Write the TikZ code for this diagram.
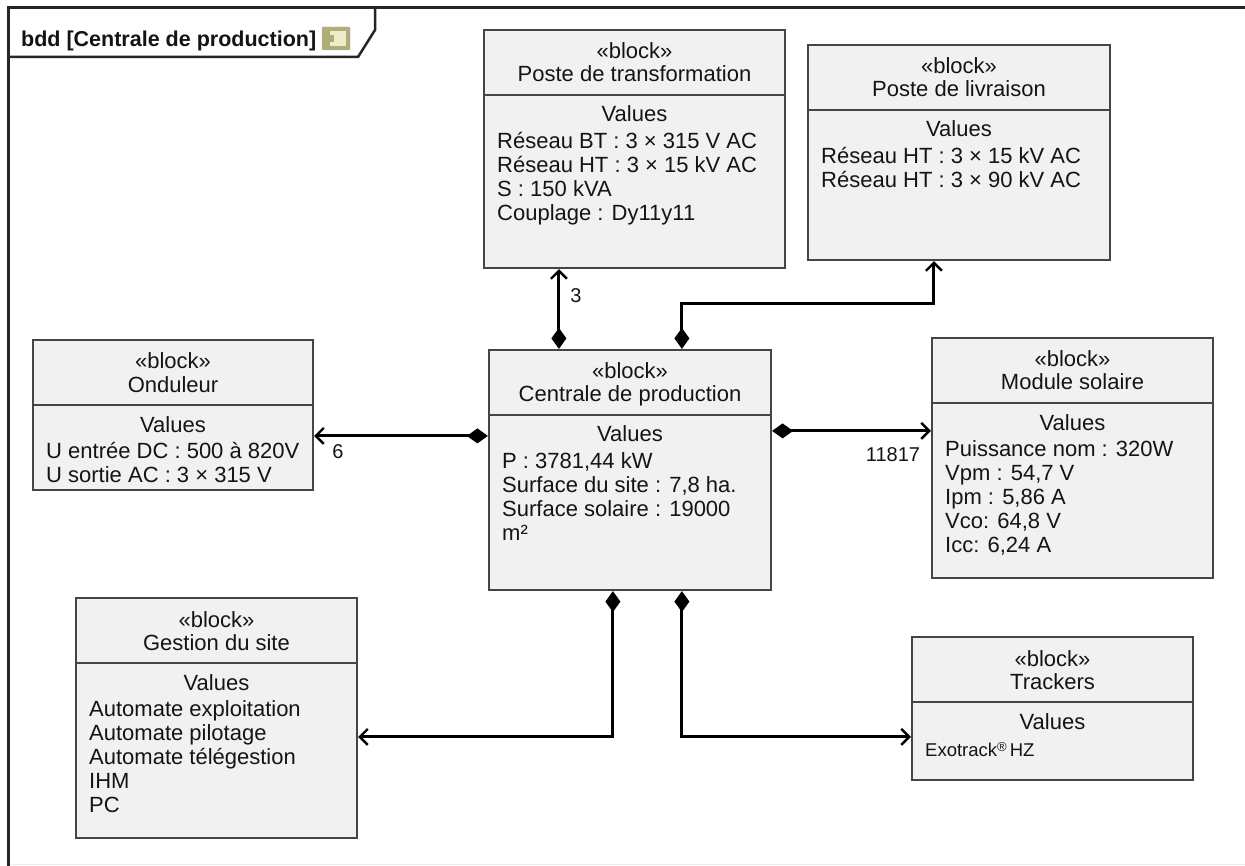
\documentclass[tikz,border=0pt]{standalone}
\usepackage{fontspec}
\setmainfont{Liberation Sans}
\usetikzlibrary{arrows.meta,calc}
\definecolor{boxfill}{HTML}{F1F1F1}
\definecolor{boxline}{HTML}{454545}
\definecolor{txtcol}{HTML}{141418}
\tikzset{
  blockbox/.style={draw=boxline, line width=2.2pt, fill=boxfill, inner sep=0pt, rectangle},
  divline/.style={draw=boxline, line width=2.2pt},
  txt/.style={inner sep=0pt, text=txtcol, font=\fontsize{22}{24}\selectfont},
  conn/.style={line width=3pt, draw=black, arrows={Diamond[length=21pt,width=15pt]-Straight Barb[length=8pt,width=16pt,line width=2.4pt]}},
  mult/.style={inner sep=0pt, text=txtcol, font=\fontsize{20}{24}\selectfont},
}
\newcommand{\umlblock}[7]{%
  \node[blockbox, minimum width={#4-#2}, minimum height={#5-#3}] (#1) at ({(#2+#4)/2},{(#3+#5)/2}) {};
  \draw[divline] ({#2},{#3+65}) -- ({#4},{#3+65});
  \node[txt, anchor=base] (#1-st) at ({(#2+#4)/2},{#3+29}) {«block»};
  \node[txt, anchor=base] (#1-nm) at ({(#2+#4)/2},{#3+52}) {#6};
  \node[txt, anchor=base] (#1-vl) at ({(#2+#4)/2},{#3+92}) {Values};
  \node[txt, anchor=north west, align=left] (#1-ln) at ({#2+13},{#3+118-16}) {\rule{0pt}{16pt}#7};
}
\begin{document}
\begin{tikzpicture}[x=1pt,y=-1pt]
\useasboundingbox[fill=white] (0,0) rectangle (1245,866);
% frame
\draw[gray!15, line width=1pt] (8,864) -- (1245,864);
\draw[line width=3pt, draw=black!85] (8,866) -- (8,8) -- (1245,8);
\draw[line width=2.5pt, draw=black!85] (8,57) -- (358,57) -- (375,30) -- (375,8);
\node[inner sep=0pt, anchor=base west, text=txtcol, font=\fontsize{21.5}{24}\selectfont\bfseries] (title) at (21,47) {bdd [Centrale de production]};
\fill[draw=black!30, fill=olive!45!gray!70, rounded corners=1pt] (322,27) rectangle (350,50);
\fill[white!85!olive] (330,31) rectangle (346,46);
\fill[olive!45!gray!70] (326,35) rectangle (334,42);
% blocks
\umlblock{trf}{484}{30}{785}{268}{Poste de transformation}{Réseau BT : 3 × 315 V AC\\Réseau HT : 3 × 15 kV AC\\S : 150 kVA\\Couplage : Dy11y11}
\umlblock{liv}{808}{45}{1110}{260}{Poste de livraison}{Réseau HT : 3 × 15 kV AC\\Réseau HT : 3 × 90 kV AC}
\umlblock{ond}{33}{340}{313}{490}{Onduleur}{U entrée DC : 500 à 820V\\U sortie AC : 3 × 315 V}
\umlblock{cen}{489}{350}{771}{590}{Centrale de production}{P : 3781,44 kW\\Surface du site : 7,8 ha.\\Surface solaire : 19000\\m²}
\umlblock{mod}{932}{338}{1213}{578}{Module solaire}{Puissance nom : 320W\\Vpm : 54,7 V\\Ipm : 5,86 A\\Vco: 64,8 V\\Icc: 6,24 A}
\umlblock{ges}{76}{598}{357}{838}{Gestion du site}{Automate exploitation\\Automate pilotage\\Automate télégestion\\IHM\\PC}
% trackers (smaller value text)
\node[blockbox, minimum width={1193-912}, minimum height={780-637}] (trk) at ({(912+1193)/2},{(637+780)/2}) {};
\draw[divline] (912,702) -- (1193,702);
\node[txt, anchor=base] (trk-st) at ({(912+1193)/2},666) {«block»};
\node[txt, anchor=base] (trk-nm) at ({(912+1193)/2},689) {Trackers};
\node[txt, anchor=base] (trk-vl) at ({(912+1193)/2},729) {Values};
\node[inner sep=0pt, text=txtcol, anchor=base west, font=\fontsize{18.5}{22}\selectfont] (trk-ln) at (925,756) {Exotrack\raisebox{5pt}{\fontsize{13}{13}\selectfont ®}\,HZ};
% connectors
\coordinate (c1) at ($(cen.north west)+(71,0)$);
\coordinate (c2) at ($(cen.north west)+(194,0)$);
\coordinate (c3) at ($(cen.north west)+(0,87)$);
\coordinate (c4) at ($(cen.north east)+(0,82)$);
\coordinate (c5) at ($(cen.south west)+(125,0)$);
\coordinate (c6) at ($(cen.south west)+(194,0)$);
\draw[conn] (c1) -- (c1 |- trf.south);
\draw[conn] (c2) -- ++(0,-45) -| ($(liv.south west)+(127,0)$);
\draw[conn] (c3) -- (c3 -| ond.east);
\draw[conn] (c4) -- (c4 -| mod.west);
\draw[conn] (c5) |- ($(ges.north east)+(0,140)$);
\draw[conn] (c6) |- ($(trk.north west)+(0,101)$);
% multiplicities
\node[mult] (m3) at (576,296) {3};
\node[mult] (m6) at (338,452) {6};
\node[mult] (m11817) at (893,455) {11817};
\end{tikzpicture}
\end{document}
